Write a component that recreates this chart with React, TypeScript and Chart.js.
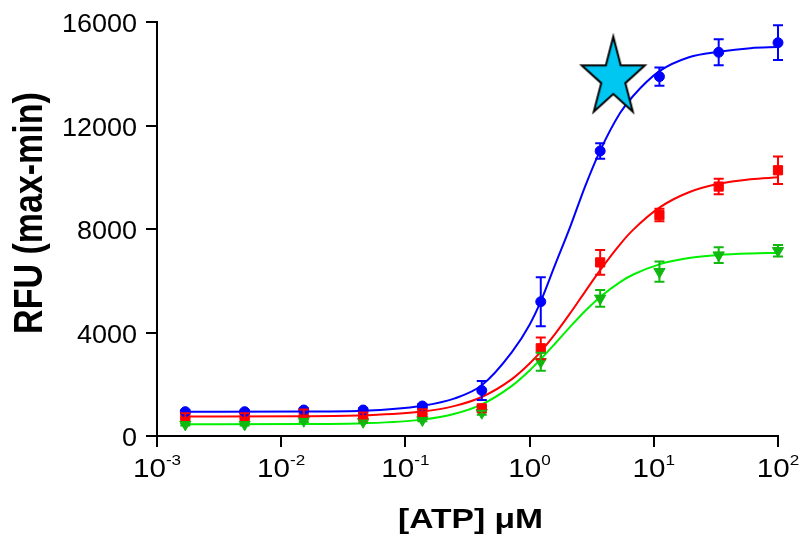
import React, { useEffect, useRef } from 'react';
import { Chart, registerables } from 'chart.js';

Chart.register(...registerables);

// ---- data ----
const concentrations = [0.00169, 0.00508, 0.0152, 0.0457, 0.137, 0.412, 1.23, 3.7, 11.1, 33.3, 100];

const blueMeans = [940, 940, 1005, 1005, 1160, 1760, 5190, 11015, 13890, 14830, 15200];
const blueErrors = [60, 60, 60, 60, 80, 370, 950, 300, 350, 500, 670];
const redMeans = [775, 775, 900, 760, 930, 1070, 3390, 6710, 8540, 9640, 10270];
const redErrors = [100, 100, 120, 150, 100, 80, 420, 480, 240, 300, 530];
const greenMeans = [450, 450, 590, 550, 620, 900, 2870, 5320, 6350, 6990, 7160];
const greenErrors = [40, 40, 50, 50, 50, 80, 350, 320, 390, 300, 220];

// fitted curves
const curveX = [0.00169, 0.0152, 0.0457, 0.137, 0.25, 0.412, 0.72, 1.0, 1.23, 1.6, 2.11, 2.8, 3.7, 5.35, 6.84, 11.1, 19.2, 33.3, 60, 100];
const blueCurve = [935, 945, 975, 1170, 1455, 1960, 3240, 4300, 5200, 6600, 8050, 9650, 11030, 12480, 13150, 14100, 14640, 14850, 14990, 15030];
const redCurve = [751, 761, 798, 944, 1165, 1508, 2199, 2801, 3263, 3938, 4729, 5582, 6411, 7410, 7975, 8826, 9419, 9745, 9921, 9998];
const greenCurve = [451, 459, 490, 633, 859, 1221, 1938, 2535, 2971, 3566, 4208, 4831, 5374, 5950, 6241, 6634, 6876, 6994, 7053, 7077];

const starX = [4.72];
const starY = [13830];

const xTickExponents = [-3, -2, -1, 0, 1, 2];
const yTickValues = [0, 4000, 8000, 12000, 16000];
const xTitle = '[ATP] \u03BCM';
const yTitle = 'RFU (max-min)';

const FAMILY = "'Liberation Sans', Arial, Helvetica, sans-serif";

function toPoints(xs: number[], ys: number[]) {
  return xs.map((x, i) => ({ x, y: ys[i] }));
}

function makeStar(): HTMLCanvasElement {
  const R = 41.5;
  const r = R * 0.382;
  const sx = 0.8;
  const w = 76;
  const h = 90;
  const c = document.createElement('canvas');
  c.width = w;
  c.height = h;
  const ctx = c.getContext('2d')!;
  ctx.beginPath();
  for (let i = 0; i < 10; i++) {
    const rad = i % 2 === 0 ? R : r;
    const a = -Math.PI / 2 + (i * Math.PI) / 5;
    const px = w / 2 + Math.cos(a) * rad * sx;
    const py = h / 2 + Math.sin(a) * rad;
    if (i === 0) ctx.moveTo(px, py);
    else ctx.lineTo(px, py);
  }
  ctx.closePath();
  ctx.fillStyle = '#00C6F2';
  ctx.fill();
  ctx.lineWidth = 2;
  ctx.strokeStyle = '#000';
  ctx.lineJoin = 'miter';
  ctx.stroke();
  return c;
}

const errorBarPlugin = {
  id: 'errorBars',
  afterDatasetsDraw(chart: any) {
    const ctx = chart.ctx;
    const xs = chart.scales.x;
    const ys = chart.scales.y;
    chart.data.datasets.forEach((ds: any) => {
      const errs = ds.errors as number[] | undefined;
      if (!errs) return;
      ctx.save();
      ctx.strokeStyle = ds.errorColor;
      ctx.lineWidth = 2;
      ds.data.forEach((p: any, j: number) => {
        const x = xs.getPixelForValue(p.x);
        const yT = ys.getPixelForValue(p.y + errs[j]);
        const yB = ys.getPixelForValue(p.y - errs[j]);
        ctx.beginPath();
        ctx.moveTo(x, yT);
        ctx.lineTo(x, yB);
        ctx.moveTo(x - 5, yT);
        ctx.lineTo(x + 5, yT);
        ctx.moveTo(x - 5, yB);
        ctx.lineTo(x + 5, yB);
        ctx.stroke();
      });
      ctx.restore();
    });
  },
};

const axisTextPlugin = {
  id: 'axisText',
  afterDraw(chart: any) {
    const ctx = chart.ctx;
    const xs = chart.scales.x;
    const ys = chart.scales.y;
    const area = chart.chartArea;
    ctx.save();
    ctx.fillStyle = '#000';
    ctx.textBaseline = 'alphabetic';

    // y tick labels
    ctx.font = `25px ${FAMILY}`;
    ctx.textAlign = 'right';
    ys.ticks.forEach((t: any) => {
      const y = ys.getPixelForValue(t.value);
      ctx.save();
      ctx.translate(area.left - 20, y + 10);
      ctx.scale(1.08, 1);
      ctx.fillText(String(t.value), 0, 0);
      ctx.restore();
    });

    // x tick labels: 10^n
    const sx = 1.14;
    ctx.textAlign = 'left';
    xs.ticks.forEach((t: any) => {
      const x = xs.getPixelForValue(t.value);
      const base = '10';
      const sup = String(Math.round(Math.log10(t.value)));
      ctx.font = `26px ${FAMILY}`;
      const wb = ctx.measureText(base).width * sx;
      ctx.font = `15px ${FAMILY}`;
      const ws = ctx.measureText(sup).width * sx;
      const left = x - (wb + ws) / 2;
      ctx.save();
      ctx.translate(left, area.bottom + 41);
      ctx.scale(sx, 1);
      ctx.font = `26px ${FAMILY}`;
      ctx.fillText(base, 0, 0);
      ctx.restore();
      ctx.save();
      ctx.translate(left + wb, area.bottom + 29);
      ctx.scale(sx, 1);
      ctx.font = `15px ${FAMILY}`;
      ctx.fillText(sup, 0, 0);
      ctx.restore();
    });

    // x title
    ctx.font = `bold 28px ${FAMILY}`;
    ctx.textAlign = 'center';
    ctx.save();
    ctx.translate((area.left + area.right) / 2 + 3, area.bottom + 92);
    ctx.scale(1.2, 1);
    ctx.fillText(xTitle, 0, 0);
    ctx.restore();

    // y title
    ctx.font = `bold 34px ${FAMILY}`;
    ctx.save();
    ctx.translate(27.5, (area.top + area.bottom) / 2 - 16);
    ctx.scale(1.17, 1);
    ctx.rotate(-Math.PI / 2);
    ctx.fillText(yTitle, 0, 12);
    ctx.restore();

    ctx.restore();
  },
};

export default function App() {
  const canvasRef = useRef<HTMLCanvasElement | null>(null);

  useEffect(() => {
    document.body.style.margin = '0';
    const canvas = canvasRef.current;
    if (!canvas) return;
    const star = makeStar();

    const BLUE = '#0000FF';
    const RED = '#FF0000';
    const GREEN_LINE = '#00F000';
    const GREEN_MARK = '#10B810';

    const chart = new Chart(canvas, {
      type: 'line',
      data: {
        datasets: [
          {
            label: 'star',
            data: toPoints(starX, starY),
            showLine: false,
            pointStyle: star as any,
            pointRadius: 1,
            pointHoverRadius: 1,
            pointBorderWidth: 0,
            clip: false as any,
          },
          {
            label: 'blue points',
            data: toPoints(concentrations, blueMeans),
            showLine: false,
            pointStyle: 'circle',
            pointRadius: 5,
            pointHoverRadius: 5,
            pointBackgroundColor: BLUE,
            pointBorderColor: BLUE,
            pointBorderWidth: 1,
            clip: false as any,
            errors: blueErrors,
            errorColor: BLUE,
          } as any,
          {
            label: 'red points',
            data: toPoints(concentrations, redMeans),
            showLine: false,
            pointStyle: 'rect',
            pointRadius: 6.5,
            pointHoverRadius: 6.5,
            pointBackgroundColor: RED,
            pointBorderColor: RED,
            pointBorderWidth: 1,
            clip: false as any,
            errors: redErrors,
            errorColor: RED,
          } as any,
          {
            label: 'green points',
            data: toPoints(concentrations, greenMeans),
            showLine: false,
            pointStyle: 'triangle',
            pointRotation: 180,
            pointRadius: 6.5,
            pointHoverRadius: 6.5,
            pointBackgroundColor: GREEN_MARK,
            pointBorderColor: GREEN_MARK,
            pointBorderWidth: 1,
            clip: false as any,
            errors: greenErrors,
            errorColor: GREEN_MARK,
          } as any,
          {
            label: 'blue fit',
            data: toPoints(curveX, blueCurve),
            borderColor: BLUE,
            borderWidth: 2,
            pointRadius: 0,
            pointHoverRadius: 0,
            cubicInterpolationMode: 'monotone',
            clip: false as any,
          },
          {
            label: 'red fit',
            data: toPoints(curveX, redCurve),
            borderColor: RED,
            borderWidth: 2,
            pointRadius: 0,
            pointHoverRadius: 0,
            cubicInterpolationMode: 'monotone',
            clip: false as any,
          },
          {
            label: 'green fit',
            data: toPoints(curveX, greenCurve),
            borderColor: GREEN_LINE,
            borderWidth: 2,
            pointRadius: 0,
            pointHoverRadius: 0,
            cubicInterpolationMode: 'monotone',
            clip: false as any,
          },
        ],
      },
      options: {
        animation: false,
        responsive: true,
        maintainAspectRatio: false,
        layout: { padding: { top: 22, right: 27, left: 0, bottom: 0 } },
        plugins: {
          legend: { display: false },
          tooltip: { enabled: false },
        },
        scales: {
          x: {
            type: 'logarithmic',
            min: 0.001,
            max: 100,
            afterBuildTicks: (scale: any) => {
              scale.ticks = xTickExponents.map((e) => ({ value: Math.pow(10, e) }));
            },
            afterFit: (scale: any) => {
              scale.height = 107;
            },
            ticks: { display: false },
            grid: {
              display: true,
              drawOnChartArea: false,
              drawTicks: true,
              tickLength: 11,
              color: '#000',
              lineWidth: 2,
            },
            border: { display: true, color: '#000', width: 2 },
          },
          y: {
            type: 'linear',
            min: 0,
            max: 16000,
            afterBuildTicks: (scale: any) => {
              scale.ticks = yTickValues.map((v) => ({ value: v }));
            },
            afterFit: (scale: any) => {
              scale.width = 157;
            },
            ticks: { display: false },
            grid: {
              display: true,
              drawOnChartArea: false,
              drawTicks: true,
              tickLength: 11,
              color: '#000',
              lineWidth: 2,
            },
            border: { display: true, color: '#000', width: 2 },
          },
        },
      },
      plugins: [errorBarPlugin, axisTextPlugin],
    } as any);

    return () => {
      chart.destroy();
    };
  }, []);

  return (
    <div style={{ position: 'relative', width: '805px', height: '543px' }}>
      <canvas ref={canvasRef} />
    </div>
  );
}
